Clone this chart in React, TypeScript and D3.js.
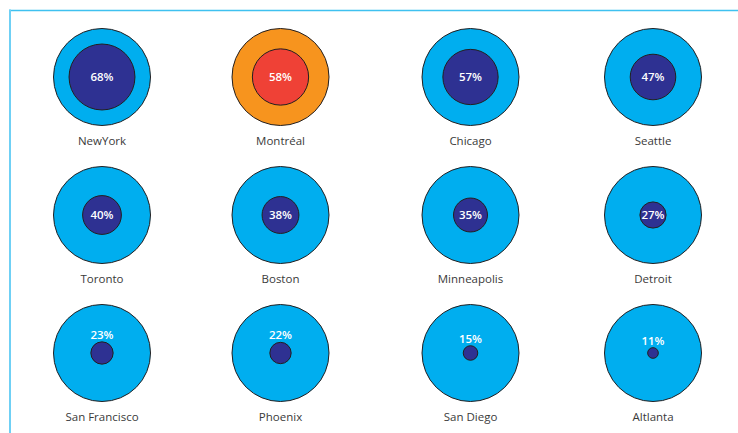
import React from "react";
import * as d3 from "d3";

// city order as laid out (row by row, 4 per row)
const cities = [
  "NewYork", "Montréal", "Chicago", "Seattle",
  "Toronto", "Boston", "Minneapolis", "Detroit",
  "San Francisco", "Phoenix", "San Diego", "Altlanta",
];
const shares = [68, 58, 57, 47, 40, 38, 35, 27, 23, 22, 15, 11];
const highlighted = ["Montréal"];

const W = 738;
const H = 433;
const COLS = 4;

export default function App() {
  const colX = d3.scaleOrdinal<number, number>().domain([0, 1, 2, 3]).range([102, 280.5, 470.5, 653]);
  const rowY = d3.scalePoint<number>().domain([0, 1, 2]).range([77, 353]);
  // radius linear in percent, outer ring = 100%
  const r = d3.scaleLinear().domain([0, 100]).range([0, 48.5]);

  return (
    <svg
      width={W}
      height={H}
      style={{ position: "absolute", left: 0, top: 0, display: "block", background: "#fff" }}
    >
      {/* frame */}
      <line x1={9} x2={W} y1={10.5} y2={10.5} stroke="#3fc1f0" strokeWidth={1.6} />
      <line x1={10} x2={10} y1={9.5} y2={H} stroke="#6fd0f5" strokeWidth={2} />

      {cities.map((c, i) => {
        const cx = colX(i % COLS);
        const cy = rowY(Math.floor(i / COLS)) as number;
        const hi = highlighted.includes(c);
        const ri = r(shares[i]);
        const inside = ri * 2 >= 25;
        return (
          <g key={c} transform={`translate(${cx},${cy})`}>
            <circle r={r(100)} fill={hi ? "#F7941E" : "#00AEEF"} stroke="#231F20" strokeWidth={1} />
            <circle r={ri} fill={hi ? "#EF4136" : "#2E3192"} stroke="#231F20" strokeWidth={1} />
            <text
              y={inside ? 0 : -ri - 7}
              dy="0.35em"
              textAnchor="middle"
              fill="#fff"
              fontFamily="'Open Sans', sans-serif"
              fontWeight={600}
              fontSize={11.5}
            >
              {shares[i]}%
            </text>
            <text
              y={67.5}
              textAnchor="middle"
              fill="#3a3a3a"
              fontFamily="'Open Sans', sans-serif"
              fontSize={11.5}
            >
              {c}
            </text>
          </g>
        );
      })}
    </svg>
  );
}
